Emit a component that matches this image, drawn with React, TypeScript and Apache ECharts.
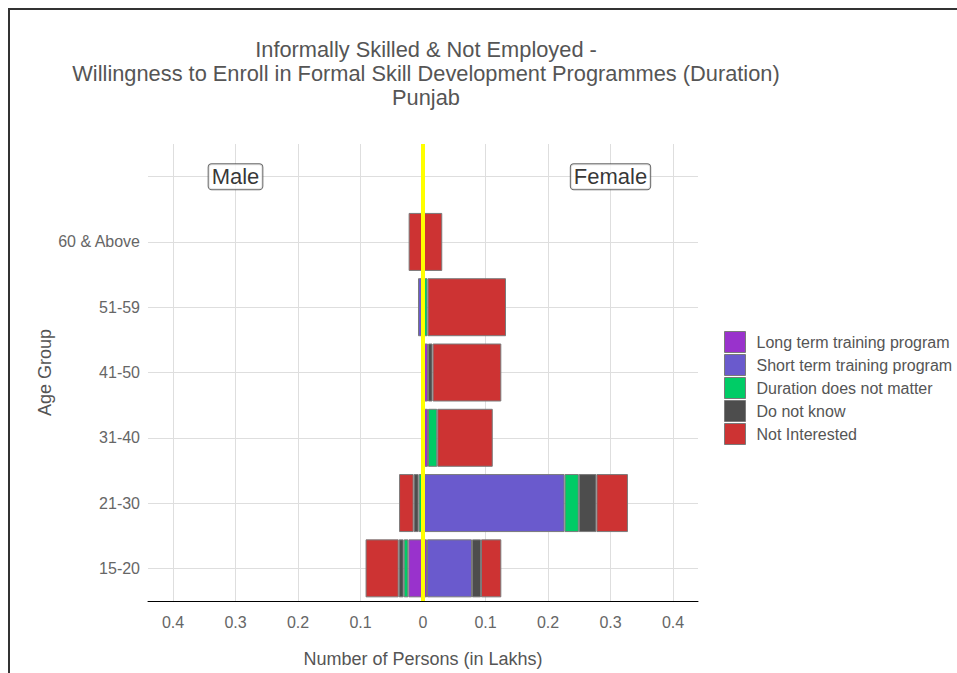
import React, { useEffect, useRef } from "react";
import * as echarts from "echarts";

const categories = ["15-20", "21-30", "31-40", "41-50", "51-59", "60 & Above", ""];
const typeNames = [
  "Long term training program",
  "Short term training program",
  "Duration does not matter",
  "Do not know",
  "Not Interested",
];
const typeColors = ["#9932CC", "#6A5ACD", "#00CC66", "#4D4D4D", "#CD3333"];

// Male values (magnitudes, in lakhs) — drawn to the left
const maleLongTerm = [0.0234, null, null, null, null, null, null];
const maleShortTerm = [null, null, null, null, 0.008, null, null];
const maleDuration = [0.0075, 0.007, null, null, null, null, null];
const maleDontKnow = [0.008, 0.008, null, null, null, null, null];
const maleNotInterested = [0.053, 0.0233, null, null, null, 0.023, null];

// Female values (in lakhs) — drawn to the right
const femaleLongTerm = [0.0064, null, 0.008, 0.008, null, null, null];
const femaleShortTerm = [0.072, 0.2265, null, null, null, null, null];
const femaleDuration = [null, 0.0228, 0.0148, null, 0.0073, null, null];
const femaleDontKnow = [0.0144, 0.0282, null, 0.0073, null, null, null];
const femaleNotInterested = [0.0325, 0.0504, 0.0888, 0.11, 0.1255, 0.0308, null];

const xTicks = [-0.4, -0.3, -0.2, -0.1, 0, 0.1, 0.2, 0.3, 0.4];
const panelLabels = [
  { name: "Male", x: -0.3 },
  { name: "Female", x: 0.3 },
];

const titleLines = [
  "Informally Skilled & Not Employed -",
  "Willingness to Enroll in Formal Skill Development Programmes (Duration)",
  "Punjab",
];

const FONT = "'Liberation Sans', Arial, sans-serif";

export default function App() {
  const ref = useRef<HTMLDivElement>(null);

  useEffect(() => {
    if (!ref.current) return;
    const chart = echarts.init(ref.current, null, { renderer: "svg" });

    const maleSets = [maleLongTerm, maleShortTerm, maleDuration, maleDontKnow, maleNotInterested];
    const femaleSets = [femaleLongTerm, femaleShortTerm, femaleDuration, femaleDontKnow, femaleNotInterested];

    const barStyle = (i: number) => ({
      color: typeColors[i],
      borderColor: "#7a7a7a",
      borderWidth: 1,
    });

    const series: any[] = [];
    maleSets.forEach((arr, i) => {
      const s: any = {
        type: "bar",
        name: typeNames[i],
        stack: "total",
        barWidth: 58,
        data: arr.map((v) => (v == null ? null : -v)),
        itemStyle: barStyle(i),
        z: 2,
      };
      if (i === 0) {
        s.markLine = {
          silent: true,
          z: 1,
          symbol: ["none", "none"],
          label: { show: false },
          lineStyle: { color: "#DEDEDE", width: 1, type: "solid" },
          data: categories.map((_, idx) => ({ yAxis: idx })),
        };
      }
      series.push(s);
    });
    femaleSets.forEach((arr, i) => {
      series.push({
        type: "bar",
        name: typeNames[i],
        stack: "total",
        barWidth: 58,
        data: arr.slice(),
        itemStyle: barStyle(i),
        z: 2,
      });
    });
    series.push({
      type: "scatter",
      name: "panel",
      symbolSize: 0,
      z: 20,
      data: panelLabels.map((p) => ({ name: p.name, value: [p.x, categories.length - 1] })),
      label: {
        show: true,
        position: "inside",
        formatter: "{b}",
        fontSize: 22,
        fontFamily: FONT,
        color: "#000",
        backgroundColor: "#fff",
        borderColor: "#444",
        borderWidth: 1,
        borderRadius: 3,
        padding: [2, 3, 1, 3],
      },
      markLine: {
        silent: true,
        z: 10,
        symbol: ["none", "none"],
        label: { show: false },
        lineStyle: { color: "#FFFF00", width: 4, type: "solid" },
        data: [{ xAxis: 0 }],
      },
    });

    chart.setOption({
      animation: false,
      textStyle: { fontFamily: FONT },
      grid: { left: 138, right: 259, top: 134, bottom: 68, containLabel: false },
      legend: {
        data: typeNames,
        orient: "vertical",
        left: 709,
        top: 316,
        icon: "rect",
        itemWidth: 21,
        itemHeight: 21,
        itemGap: 1,
        selectedMode: false,
        itemStyle: { borderColor: "#7a7a7a", borderWidth: 1 },
        textStyle: { fontSize: 16, color: "#555", fontFamily: FONT, padding: [0, 0, 0, 6] },
      },
      xAxis: {
        type: "value",
        min: -0.44,
        max: 0.44,
        name: "Number of Persons (in Lakhs)",
        nameLocation: "middle",
        nameGap: 49,
        nameMoveOverlap: false,
        nameTextStyle: { fontSize: 18, color: "#555", fontFamily: FONT },
        axisLine: { show: true, onZero: false, lineStyle: { color: "#000", width: 1 } },
        axisTick: { show: false, customValues: xTicks },
        axisLabel: {
          customValues: xTicks,
          fontSize: 16,
          color: "#666",
          margin: 13,
          formatter: (v: number) => String(Math.round(Math.abs(v) * 10) / 10),
        },
        splitLine: { show: true, lineStyle: { color: "#DEDEDE", width: 1 } },
      },
      yAxis: {
        type: "category",
        data: categories,
        name: "Age Group",
        nameLocation: "middle",
        nameGap: 94,
        nameMoveOverlap: false,
        nameTextStyle: { fontSize: 18, color: "#555", fontFamily: FONT },
        axisLine: { show: false },
        axisTick: { show: false },
        splitLine: { show: false },
        axisLabel: { fontSize: 16, color: "#666", margin: 8 },
      },
      graphic: [
        {
          type: "text",
          x: 416,
          y: 27,
          silent: true,
          style: {
            text: titleLines.join("\n"),
            fontSize: 21.8,
            fontFamily: FONT,
            fill: "#555",
            align: "center",
            verticalAlign: "top",
            lineHeight: 24,
          },
        },
      ],
      series,
    });

    return () => chart.dispose();
  }, []);

  return (
    <div
      style={{
        position: "fixed",
        left: 8,
        top: 8,
        width: 949,
        height: 665,
        boxSizing: "border-box",
        borderTop: "2px solid #333",
        borderLeft: "2px solid #333",
        background: "#fff",
      }}
    >
      <div ref={ref} style={{ width: 947, height: 663 }} />
    </div>
  );
}
